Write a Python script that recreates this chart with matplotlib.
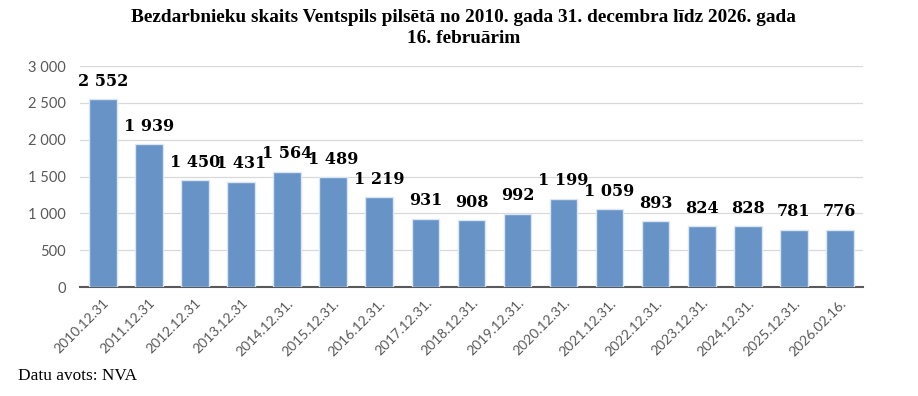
import matplotlib
matplotlib.use("Agg")
import matplotlib.pyplot as plt
import matplotlib.ticker as mticker

# ---------------------------------------------------------------------------
# Data
# ---------------------------------------------------------------------------
dates = [
    "2010.12.31", "2011.12.31", "2012.12.31", "2013.12.31", "2014.12.31.",
    "2015.12.31.", "2016.12.31.", "2017.12.31.", "2018.12.31.", "2019.12.31.",
    "2020.12.31.", "2021.12.31.", "2022.12.31.", "2023.12.31.", "2024.12.31.",
    "2025.12.31.", "2026.02.16.",
]
unemployed = [2552, 1939, 1450, 1431, 1564, 1489, 1219, 931, 908, 992,
              1199, 1059, 893, 824, 828, 781, 776]
y_ticks = [0, 500, 1000, 1500, 2000, 2500, 3000]

title = ("Bezdarbnieku skaits Ventspils pilsētā no 2010. gada 31. decembra līdz 2026. gada\n"
         "16. februārim")
source = "Datu avots: NVA"

_BAR = "#6793c7"
_TICK = "#595959"


def fmt_thousands(v):
    return f"{int(v):,}".replace(",", " ")


fig = plt.figure(figsize=(9.18, 3.96), dpi=100)
ax = fig.add_axes([0.087, 0.275, 0.853, 0.558])

x = range(len(dates))
ax.bar(x, unemployed, width=0.6, color=_BAR, edgecolor="#dce6f2",
       linewidth=1.0, zorder=3)

for xi, v in zip(x, unemployed):
    ax.text(xi, v + 130, fmt_thousands(v), ha="center", va="bottom",
            fontsize=11.5, fontweight="bold", family="DejaVu Serif", color="black")

ax.set_xlim(-0.5, len(dates) - 0.5)
ax.set_ylim(0, 3000)
ax.set_yticks(y_ticks)
ax.yaxis.set_major_formatter(mticker.FuncFormatter(lambda v, _: fmt_thousands(v)))
ax.grid(axis="y", color="#d9d9d9", lw=0.9, zorder=0)

for side in ("top", "right", "left"):
    ax.spines[side].set_visible(False)
ax.spines["bottom"].set_color("#595959")
ax.spines["bottom"].set_linewidth(1.5)

ax.tick_params(axis="y", length=0, labelsize=10.5, colors=_TICK, pad=10)
ax.tick_params(axis="x", length=0, colors=_TICK, pad=7)
ax.set_xticks(list(x))
ax.set_xticklabels(dates, rotation=45, ha="right", rotation_mode="anchor",
                   fontsize=10, family="Lato")
for lbl in ax.get_yticklabels():
    lbl.set_family("Lato")

fig.text(0.505, 0.978, title, ha="center", va="top", fontsize=13.9,
         fontweight="bold", family="Liberation Serif", linespacing=1.3)
fig.text(0.02, 0.03, source, ha="left", va="bottom", fontsize=12.4,
         family="Liberation Serif")

fig.savefig("out.png", dpi=100)
